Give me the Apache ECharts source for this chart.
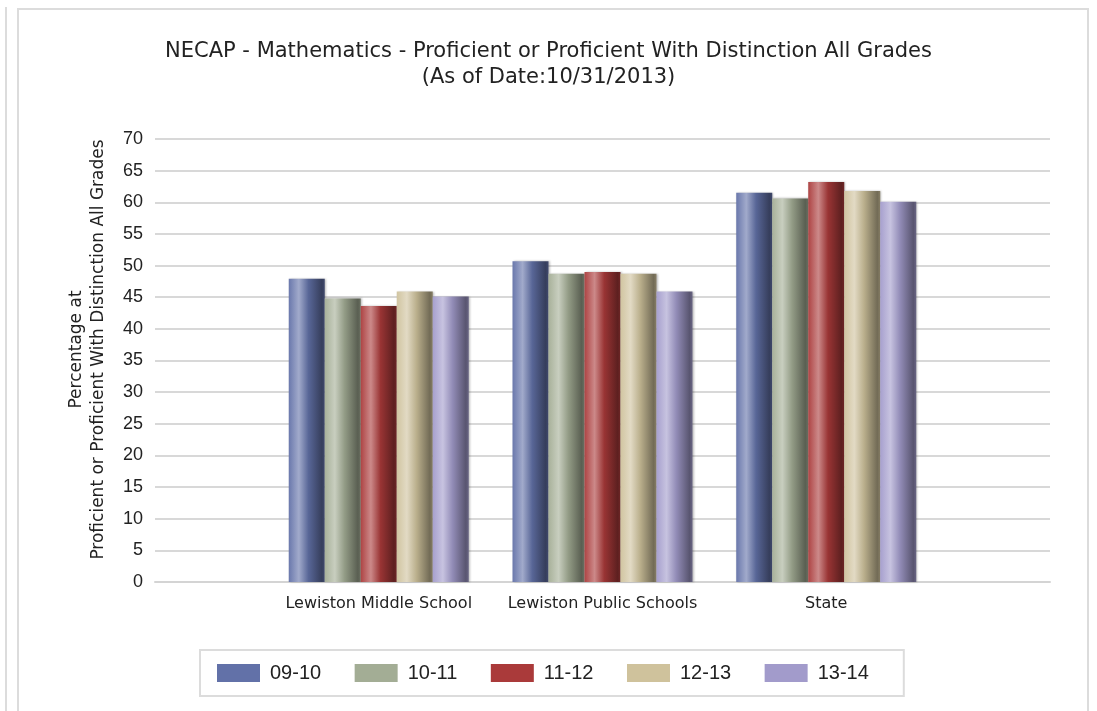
<!DOCTYPE html>
<html>
<head>
<meta charset="utf-8">
<script src="https://cdn.jsdelivr.net/npm/echarts@6/dist/echarts.min.js"></script>
<style>
html,body{margin:0;padding:0;background:#fff;}
#chart{position:absolute;left:0;top:0;width:1097px;height:711px;}
.ln{position:absolute;background:#dcdcdc;pointer-events:none;}
</style>
</head>
<body>
<div id="chart"></div>
<div class="ln" style="left:5px;top:7px;width:2px;height:704px;"></div>
<div class="ln" style="left:17px;top:8px;width:2px;height:703px;"></div>
<div class="ln" style="left:17px;top:8px;width:1072px;height:2px;"></div>
<div class="ln" style="left:1087px;top:8px;width:2px;height:703px;"></div>
<script>
var titleText = 'NECAP - Mathematics - Proficient or Proficient With Distinction All Grades\n(As of Date:10/31/2013)';
var yAxisName = 'Percentage at\nProficient or Proficient With Distinction All Grades';
var categories = ['Lewiston Middle School', 'Lewiston Public Schools', 'State'];
var seriesNames = ['09-10', '10-11', '11-12', '12-13', '13-14'];
var s0910 = [47.9, 50.7, 61.5];
var s1011 = [44.8, 48.7, 60.6];
var s1112 = [43.6, 49.0, 63.2];
var s1213 = [45.9, 48.7, 61.8];
var s1314 = [45.1, 45.9, 60.1];
var seriesValues = [s0910, s1011, s1112, s1213, s1314];
var baseColors = ['#6271a8', '#a3ad95', '#aa3a3a', '#cfc29c', '#a29bcb'];

function hexToRgb(h){h=h.replace('#','');return [parseInt(h.substr(0,2),16),parseInt(h.substr(2,2),16),parseInt(h.substr(4,2),16)];}
function mix(h, t, target){var c=hexToRgb(h);return 'rgb('+c.map(function(v){return Math.round(v+(target-v)*t);}).join(',')+')';}
function grad(h){
  return {type:'linear',x:0,y:0,x2:1,y2:0,colorStops:[
    {offset:0,color:mix(h,0.05,255)},
    {offset:0.28,color:mix(h,0.40,255)},
    {offset:0.55,color:mix(h,0.10,0)},
    {offset:0.92,color:mix(h,0.45,0)},
    {offset:1,color:mix(h,0.35,0)}
  ]};
}

// padded category axis so groups sit on interior ticks
var axisData = [''].concat(categories).concat(['']);
var font = '"Liberation Sans", Arial, sans-serif';
var wideFont = '"DejaVu Sans", "Liberation Sans", sans-serif';

var series = seriesNames.map(function(n, i){
  return {
    name: n,
    type: 'bar',
    barWidth: 36,
    barGap: '0%',
    data: [null].concat(seriesValues[i]).concat([null]),
    itemStyle: {color: grad(baseColors[i]), shadowColor:'rgba(0,0,0,0.25)', shadowBlur:2, shadowOffsetX:1},
    emphasis: {disabled: true}
  };
});

var chart = echarts.init(document.getElementById('chart'));
chart.setOption({
  animation: false,
  color: baseColors,
  title: {
    text: titleText, left: 'center', top: 34,
    textStyle: {fontFamily: wideFont, fontSize: 21, fontWeight: 'normal', color: '#222', lineHeight: 26}
  },
  grid: {left: 155, right: 47, top: 139, bottom: 129, containLabel: false},
  legend: {
    left: 200, top: 650,
    padding: [13, 35, 13, 17],
    borderColor: '#dcdcdc', borderWidth: 2,
    itemWidth: 43, itemHeight: 18, itemGap: 33.5,
    icon: 'rect',
    textStyle: {fontFamily: font, fontSize: 20, color: '#222', padding: [0,0,0,5]},
    data: seriesNames.map(function(n, i){return {name: n, itemStyle: {color: baseColors[i]}};})
  },
  xAxis: {
    type: 'category', data: axisData, boundaryGap: false,
    axisLine: {lineStyle: {color: '#d4d4d4', width: 2}},
    axisTick: {show: false},
    axisLabel: {fontFamily: wideFont, fontSize: 16, color: '#222', margin: 14, interval: 0}
  },
  yAxis: {
    type: 'value', min: 0, max: 70, interval: 5,
    name: yAxisName, nameLocation: 'middle', nameGap: 45, nameRotate: 90,
    nameTextStyle: {fontFamily: wideFont, fontSize: 17, color: '#222', lineHeight: 22, padding: [0,0,0,22]},
    axisLine: {show: false}, axisTick: {show: false},
    splitLine: {lineStyle: {color: '#d8d8d8', width: 2}},
    axisLabel: {fontFamily: font, fontSize: 18, color: '#222', margin: 12}
  },
  series: series
});
</script>
</body>
</html>
